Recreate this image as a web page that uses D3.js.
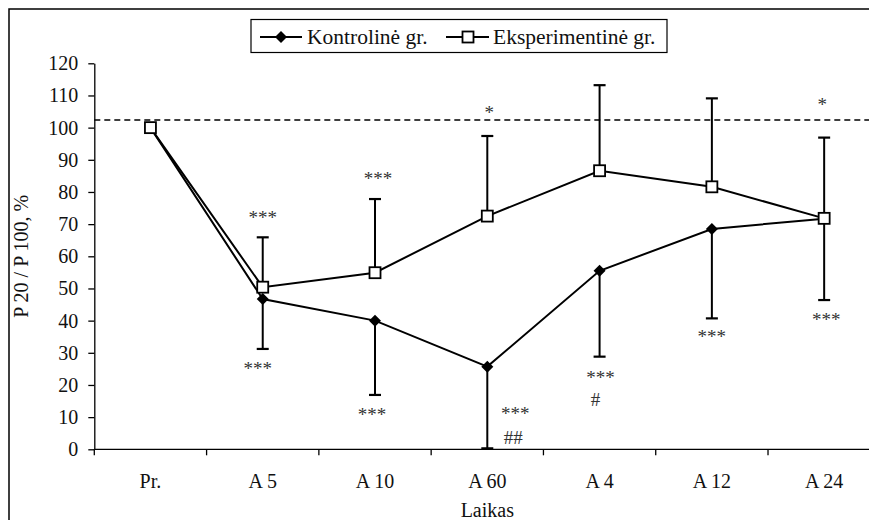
<!DOCTYPE html>
<html>
<head>
<meta charset="utf-8">
<script src="https://cdn.jsdelivr.net/npm/d3@7"></script>
<style>
    body { margin: 0; background: #fff; }
    text { font-family: "Liberation Serif", "Times New Roman", serif; fill: #111; }
</style>
</head>
<body>
<svg id="svg-board" width="869" height="520"></svg>
<script>
// chart data
const categories = ["Pr.", "A 5", "A 10", "A 60", "A 4", "A 12", "A 24"];
const kontrolineValues = [100, 46.7, 40.0, 25.7, 55.5, 68.5, 71.7];
const eksperimentineValues = [100, 50.4, 54.9, 72.5, 86.6, 81.6, 71.8];
const eksperimentineUpper = [null, 65.9, 77.8, 97.4, 113.2, 109.1, 96.9];
const kontrolineLower = [null, 31.2, 16.9, 0.3, 28.8, 40.7, 46.4];
const referenceLevel = 102.4;
const yTicks = [0, 10, 20, 30, 40, 50, 60, 70, 80, 90, 100, 110, 120];

// significance marks: category, level of the text baseline, text, horizontal shift
const annoCategory = ["A 5", "A 5", "A 10", "A 10", "A 60", "A 60", "A 60", "A 4", "A 4", "A 12", "A 24", "A 24"];
const annoLevel = [70.0, 23.2, 82.2, 8.9, 102.7, 9.1, 1.8, 20.3, 13.6, 33.0, 38.3, 105.3];
const annoText = ["***", "***", "***", "***", "*", "***", "##", "***", "#", "***", "***", "*"];
const annoShift = [0, -5, 3, -3, 2, 28, 26, 1, -4, 0, 2, -2];

const seriesNames = ["Kontrolinė gr.", "Eksperimentinė gr."];

const svg = d3.select("#svg-board");

const plotLeft = 94.3, plotRight = 880.3, plotTop = 63.3, plotBottom = 449.3;

let xScale = d3.scaleBand().domain(categories).range([plotLeft, plotRight]).padding(0);
let yScale = d3.scaleLinear().domain([0, 120]).range([plotBottom, plotTop]);
const bw = xScale.bandwidth();
const cx = c => xScale(c) + bw / 2;

// outer frame (runs off the right and bottom edge in the original)
svg.append("rect")
    .attr("x", 9).attr("y", 9)
    .attr("width", 900).attr("height", 560)
    .attr("fill", "none")
    .attr("stroke", "#000")
    .attr("stroke-width", 1.5);

// y axis
let yAxis = d3.axisLeft(yScale).tickValues(yTicks).tickSize(6).tickSizeOuter(0).tickPadding(10);
let gy = svg.append("g").attr("transform", `translate(${plotLeft},0)`).call(yAxis);
gy.select(".domain").attr("stroke", "#000").attr("stroke-width", 1.3);
gy.selectAll(".tick line").attr("stroke", "#000").attr("stroke-width", 1.3);
gy.selectAll(".tick text").style("font-size", "20px").attr("fill", "#111")
    .style("font-family", "Liberation Serif, serif");

// x axis: ticks on the band edges, labels in the band middle
svg.append("line")
    .attr("x1", plotLeft).attr("x2", 869)
    .attr("y1", plotBottom).attr("y2", plotBottom)
    .attr("stroke", "#000").attr("stroke-width", 1.3);

svg.selectAll(".xtick")
    .data(categories)
    .enter().append("line")
    .attr("class", "xtick")
    .attr("x1", d => xScale(d)).attr("x2", d => xScale(d))
    .attr("y1", plotBottom).attr("y2", plotBottom + 6)
    .attr("stroke", "#000").attr("stroke-width", 1.3);

svg.selectAll(".xlabel")
    .data(categories)
    .enter().append("text")
    .attr("class", "xlabel")
    .attr("x", d => cx(d))
    .attr("y", 488)
    .attr("text-anchor", "middle")
    .style("font-size", "20px")
    .text(d => d);

svg.append("text")
    .attr("x", (plotLeft + plotRight) / 2)
    .attr("y", 517)
    .attr("text-anchor", "middle")
    .style("font-size", "20px")
    .text("Laikas");

svg.append("text")
    .attr("transform", `translate(28,${(plotTop + plotBottom) / 2}) rotate(-90)`)
    .attr("text-anchor", "middle")
    .style("font-size", "20px")
    .text("P 20 / P 100, %");

// dashed reference line
svg.append("line")
    .attr("x1", plotLeft).attr("x2", 869)
    .attr("y1", yScale(referenceLevel)).attr("y2", yScale(referenceLevel))
    .attr("stroke", "#000").attr("stroke-width", 1.5)
    .attr("stroke-dasharray", "6,4");

let line = d3.line()
    .x((d, i) => cx(categories[i]))
    .y(d => yScale(d));

svg.append("path").datum(kontrolineValues)
    .attr("d", line).attr("fill", "none")
    .attr("stroke", "#000").attr("stroke-width", 2);
svg.append("path").datum(eksperimentineValues)
    .attr("d", line).attr("fill", "none")
    .attr("stroke", "#000").attr("stroke-width", 2);

function drawErrorBar(i, from, to) {
    if (to === null) return;
    let x = cx(categories[i]);
    svg.append("line")
        .attr("x1", x).attr("x2", x)
        .attr("y1", yScale(from)).attr("y2", yScale(to))
        .attr("stroke", "#000").attr("stroke-width", 2);
    svg.append("line")
        .attr("x1", x - 6).attr("x2", x + 6)
        .attr("y1", yScale(to)).attr("y2", yScale(to))
        .attr("stroke", "#000").attr("stroke-width", 2.2);
}

categories.forEach(function(c, i) {
    drawErrorBar(i, eksperimentineValues[i], eksperimentineUpper[i]);
    drawErrorBar(i, kontrolineValues[i], kontrolineLower[i]);
});

function drawDiamond(x, y) {
    svg.append("path")
        .attr("d", "M0,-6L6,0L0,6L-6,0Z")
        .attr("transform", `translate(${x},${y})`)
        .attr("fill", "#000");
}

function drawSquare(x, y) {
    svg.append("rect")
        .attr("x", x - 5.5).attr("y", y - 5.5)
        .attr("width", 11).attr("height", 11)
        .attr("fill", "#fff")
        .attr("stroke", "#000").attr("stroke-width", 1.8);
}

kontrolineValues.forEach((v, i) => drawDiamond(cx(categories[i]), yScale(v)));
eksperimentineValues.forEach((v, i) => drawSquare(cx(categories[i]), yScale(v)));

// significance marks
annoText.forEach(function(t, i) {
    svg.append("text")
        .attr("x", cx(annoCategory[i]) + annoShift[i])
        .attr("y", yScale(annoLevel[i]))
        .attr("text-anchor", "middle")
        .style("font-size", "19px")
        .style("fill", "#333")
        .text(t);
});

// legend
let legend = svg.append("g");
legend.append("rect")
    .attr("x", 251).attr("y", 19.5)
    .attr("width", 416).attr("height", 33)
    .attr("fill", "#fff")
    .attr("stroke", "#000").attr("stroke-width", 1.2);

legend.append("line")
    .attr("x1", 260).attr("x2", 302).attr("y1", 37).attr("y2", 37)
    .attr("stroke", "#000").attr("stroke-width", 2);
drawDiamond(281, 37);
legend.append("text")
    .attr("x", 307).attr("y", 44)
    .style("font-size", "21.5px")
    .text(seriesNames[0]);

legend.append("line")
    .attr("x1", 446).attr("x2", 489).attr("y1", 37).attr("y2", 37)
    .attr("stroke", "#000").attr("stroke-width", 2);
drawSquare(468, 37);
legend.append("text")
    .attr("x", 493).attr("y", 44)
    .style("font-size", "21.5px")
    .text(seriesNames[1]);
</script>
</body>
</html>
